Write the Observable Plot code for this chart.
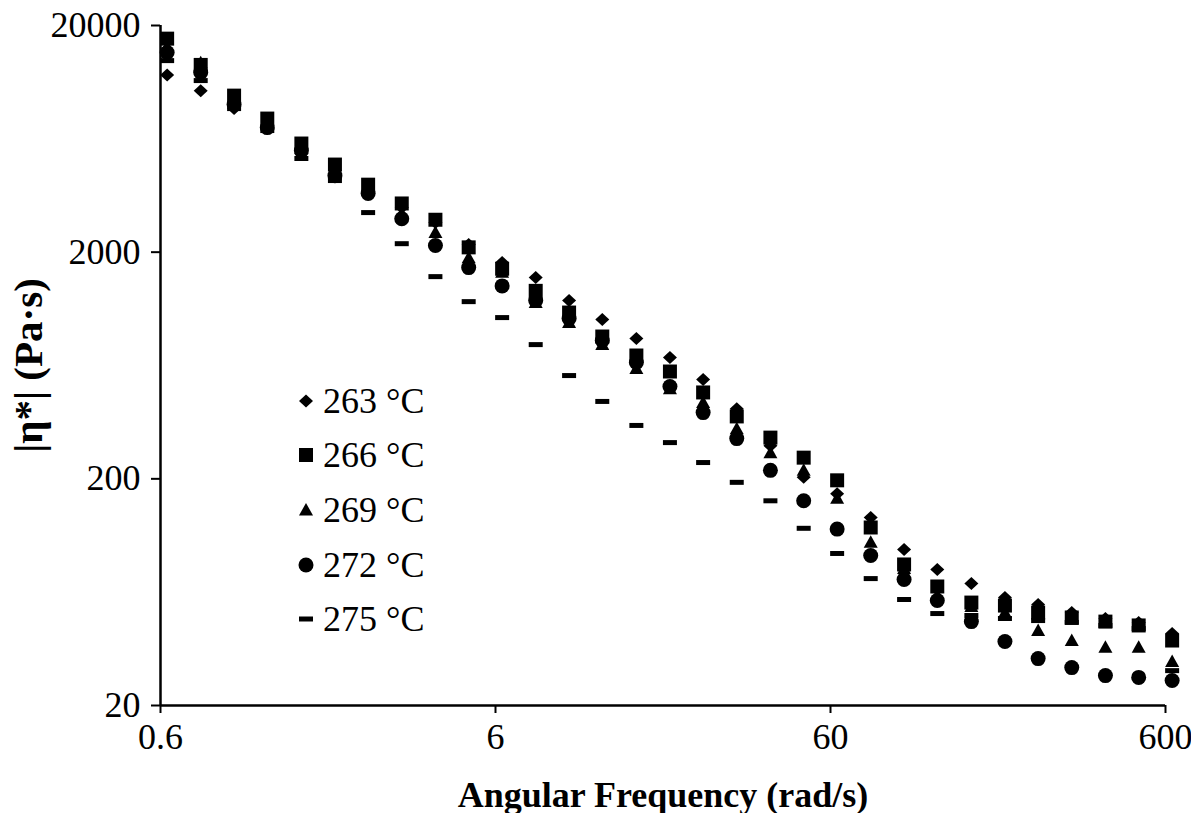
<!DOCTYPE html>
<html>
<head>
<meta charset="utf-8">
<script src="https://cdn.jsdelivr.net/npm/d3@7"></script>
<script src="https://cdn.jsdelivr.net/npm/@observablehq/plot@0.6"></script>
<style>
  body { margin: 0; background: #fff; }
  #wrap { position: relative; width: 1191px; height: 813px; overflow: hidden; background: #fff;
          font-family: "Liberation Serif", "Times New Roman", serif; color: #000; }
  #wrap svg g[aria-label$="tick"] path { stroke-width: 2px; }
  #wrap svg .tick line { stroke-width: 2px; }
  .lrow { position: absolute; height: 44px; display: flex; align-items: center; white-space: nowrap;
          font-size: 36px; line-height: 44px; }
  .lrow svg { margin-right: 1px; }
</style>
</head>
<body>
<div id="wrap"></div>
<script>
// Angular frequency (rad/s)
const freq = [0.628, 0.791, 0.995, 1.25, 1.58, 1.99, 2.5, 3.15, 3.97, 4.99,
              6.28, 7.91, 9.95, 12.5, 15.8, 19.9, 25.0, 31.5, 39.7, 49.9,
              62.8, 79.1, 99.5, 125, 158, 199, 250, 315, 397, 499, 628];
// |eta*| (Pa·s) per temperature
const eta263 = [12100, 10300, 8600, 7020, 5610, 4580, 3740, 3150, 2700, 2160,
                1800, 1545, 1223, 1009, 831, 686, 548, 408, 280, 203,
                172, 135, 97.5, 79.6, 69.0, 59.9, 55.8, 51.4, 48.4, 46.5, 41.6];
const eta266 = [17500, 13400, 9810, 7770, 6030, 4870, 3970, 3280, 2780, 2100,
                1690, 1350, 1083, 849, 700, 595, 481, 377, 304, 248,
                197, 122, 83.8, 67.0, 56.9, 55.2, 51.4, 48.9, 46.9, 45.1, 38.7];
const eta269 = [16100, 13700, 9330, 7380, 5730, 4580, 3820, 2960, 2440, 1890,
                1630, 1200, 978, 782, 613, 500, 434, 333, 261, 218,
                164, 105, 80.4, 61.1, 54.7, 51.4, 42.8, 38.7, 36.1, 36.1, 31.3];
const eta272 = [15200, 12400, 8960, 7090, 5610, 4350, 3630, 2810, 2140, 1710,
                1420, 1223, 1019, 815, 652, 511, 392, 301, 218, 160,
                120, 91.8, 71.9, 58.1, 46.9, 38.3, 32.2, 29.4, 27.1, 26.6, 25.8];
const eta275 = [14000, 11430, 8600, 6880, 5180, 4140, 2990, 2180, 1560, 1210,
                1029, 782, 571, 439, 344, 289, 236, 193, 160, 121,
                93.7, 72.6, 58.7, 50.9, 49.9, 48.4, 47.4, 46.5, 45.1, 43.7, 28.5];

const seriesNames = ["263 °C", "266 °C", "269 °C", "272 °C", "275 °C"];
const xTicks = [0.6, 6, 60, 600];
const yTicks = [20, 200, 2000, 20000];
const xLabel = "Angular Frequency (rad/s)";
const yLabel = "|η*| (Pa·s)";

// marker shapes
const symDiamond = { draw(c) { c.moveTo(0, -6.5); c.lineTo(7, 0); c.lineTo(0, 6.5); c.lineTo(-7, 0); c.closePath(); } };
const symSquare = { draw(c) { c.rect(-7, -7, 14, 14); } };
const symTriangle = { draw(c) { c.moveTo(0, -7); c.lineTo(7, 5.5); c.lineTo(-7, 5.5); c.closePath(); } };
const symCircle = { draw(c) { c.moveTo(7.5, 0); c.arc(0, 0, 7.5, 0, 2 * Math.PI); c.closePath(); } };
const symDash = { draw(c) { c.rect(-7, -2.5, 14, 5); } };
const symbols = [symDiamond, symSquare, symTriangle, symCircle, symDash];
const seriesValues = [eta263, eta266, eta269, eta272, eta275];

const xDomain = [0.6, 600];
const yDomain = [20, 20000];

const dotMarks = seriesValues.map((vals, s) =>
  Plot.dot(freq.map((f, i) => ({ f, v: vals[i] })), {
    x: "f", y: "v", symbol: symbols[s], r: 5, fill: "black", stroke: "none"
  })
);

const chart = Plot.plot({
  width: 1191,
  height: 813,
  marginLeft: 160,
  marginRight: 26,
  marginTop: 25,
  marginBottom: 108,
  style: { fontFamily: "'Liberation Serif', 'Times New Roman', serif", fontSize: "36px", color: "black", background: "white", overflow: "visible" },
  x: { type: "log", domain: xDomain, ticks: xTicks, tickFormat: () => "", tickSize: 8, tickPadding: 18, label: null },
  y: { type: "log", domain: yDomain, ticks: yTicks, tickFormat: d => String(d), tickSize: 9, tickPadding: 11, label: null },
  marks: [
    ...dotMarks,
    Plot.ruleX([xDomain[0]], { stroke: "black", strokeWidth: 2.5 }),
    Plot.ruleY([yDomain[0]], { stroke: "black", strokeWidth: 2.5, dx: 0 }),
    Plot.text(xTicks, { x: d => d, text: d => String(d), frameAnchor: "bottom", dy: 43, fontSize: 36, fill: "black", textAnchor: "middle" }),
    Plot.text([xLabel], { text: d => d, frameAnchor: "bottom", dy: 101, fontWeight: "bold", fontSize: 36, fill: "black", textAnchor: "middle" }),
    Plot.text([yLabel], { text: d => d, frameAnchor: "left", dx: -132, dy: 0, rotate: -90, fontWeight: "bold", fontSize: 41, fill: "black", textAnchor: "middle" })
  ]
});

const wrap = document.getElementById("wrap");
wrap.appendChild(chart);

// legend inside the plot area
const legendTop = [402, 456, 511, 566, 620];
seriesNames.forEach((name, s) => {
  const row = document.createElement("div");
  row.className = "lrow";
  row.style.left = "297px";
  row.style.top = (legendTop[s] - 23) + "px";
  const ns = "http://www.w3.org/2000/svg";
  const svg = document.createElementNS(ns, "svg");
  svg.setAttribute("width", "18");
  svg.setAttribute("height", "18");
  const path = document.createElementNS(ns, "path");
  const p = d3.path();
  symbols[s].draw(p);
  path.setAttribute("d", p.toString());
  path.setAttribute("transform", "translate(9,9)");
  path.setAttribute("fill", "black");
  svg.appendChild(path);
  row.appendChild(svg);
  const span = document.createElement("span");
  span.textContent = name;
  span.style.marginLeft = "7px";
  row.appendChild(span);
  wrap.appendChild(row);
});
</script>
</body>
</html>
